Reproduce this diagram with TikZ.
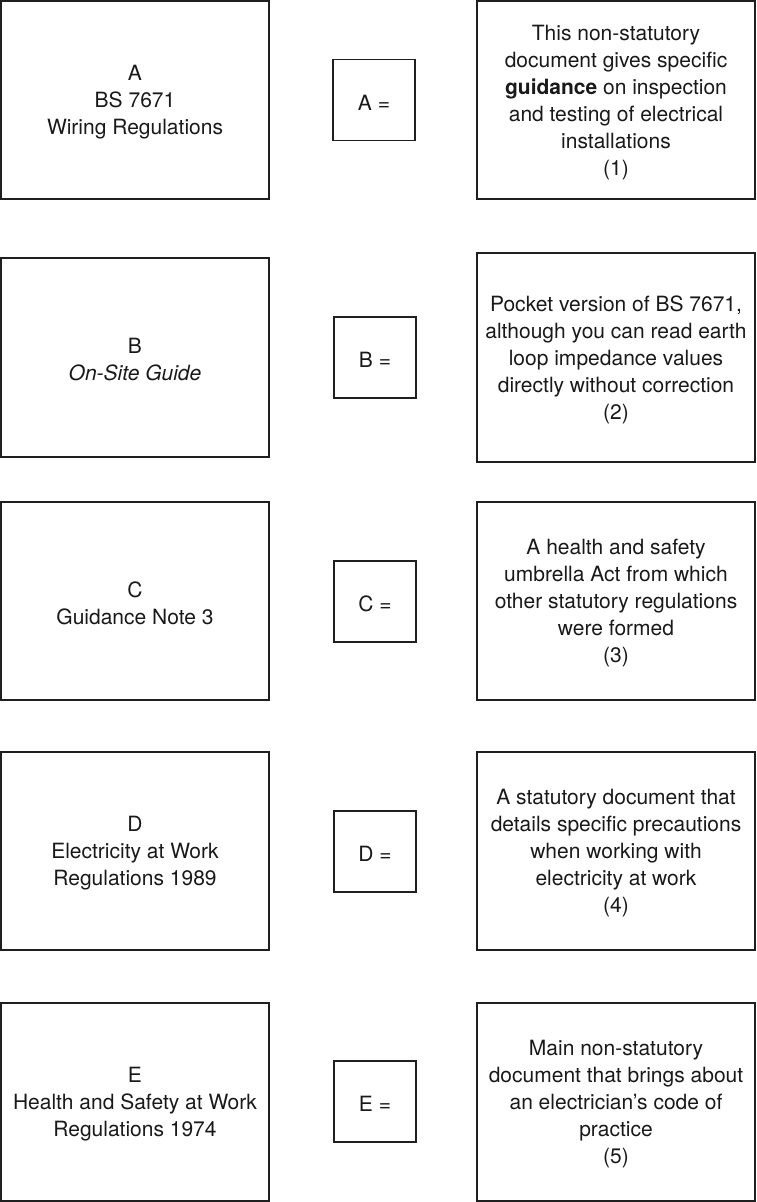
\documentclass[tikz,border=0pt]{standalone}
\usepackage{fontspec}
\setmainfont{TeX Gyre Heros}
\begin{document}
\begin{tikzpicture}[x=1pt,y=-1pt,
  box/.style={draw=black!88, line width=1.8pt, inner sep=0pt},
  leftbox/.style={box, minimum width=268pt, minimum height=198pt},
  midbox/.style={box, minimum width=82pt, minimum height=81pt},
  rightbox/.style={box, minimum width=278pt, minimum height=198pt},
  txt/.style={inner sep=0pt, align=center, yshift=-2.5pt,
    font=\fontsize{21}{27}\selectfont, text=black!90}]
\useasboundingbox (0,0) rectangle (756,1202);
% Row A
\node[leftbox] (lA) at (135,100) {};
\node[txt] (lAt) at (lA.center) {A\\BS 7671\\Wiring Regulations};
\node[midbox] (mA) at (374,100) {};
\node[txt] (mAt) at (mA.center) {A =};
\node[rightbox] (rA) at (616,100) {};
\node[txt] (rAt) at (rA.center) {This non-statutory\\document gives specific\\\textbf{guidance} on inspection\\and testing of electrical\\installations\\(1)};
% Row B
\node[leftbox, minimum height=199pt] (lB) at (135,357.5) {};
\node[txt] (lBt) at (lB.center) {B\\\textit{On-Site Guide}};
\node[midbox] (mB) at (375,357.5) {};
\node[txt] (mBt) at (mB.center) {B =};
\node[rightbox, minimum height=209pt] (rB) at (616,357.5) {};
\node[txt] (rBt) at (rB.center) {Pocket version of BS 7671,\\although you can read earth\\loop impedance values\\directly without correction\\(2)};
% Row C
\node[leftbox] (lC) at (135,601) {};
\node[txt] (lCt) at (lC.center) {C\\Guidance Note 3};
\node[midbox] (mC) at (375,601.5) {};
\node[txt] (mCt) at (mC.center) {C =};
\node[rightbox] (rC) at (616,601) {};
\node[txt] (rCt) at (rC.center) {A health and safety\\umbrella Act from which\\other statutory regulations\\were formed\\(3)};
% Row D
\node[leftbox] (lD) at (135,851) {};
\node[txt] (lDt) at (lD.center) {D\\Electricity at Work\\Regulations 1989};
\node[midbox] (mD) at (375,851.5) {};
\node[txt] (mDt) at (mD.center) {D =};
\node[rightbox] (rD) at (616,851) {};
\node[txt] (rDt) at (rD.center) {A statutory document that\\details specific precautions\\when working with\\electricity at work\\(4)};
% Row E
\node[leftbox] (lE) at (135,1102) {};
\node[txt] (lEt) at (lE.center) {E\\Health and Safety at Work\\Regulations 1974};
\node[midbox] (mE) at (375,1101.5) {};
\node[txt] (mEt) at (mE.center) {E =};
\node[rightbox] (rE) at (616,1102) {};
\node[txt] (rEt) at (rE.center) {Main non-statutory\\document that brings about\\an electrician’s code of\\practice\\(5)};
\end{tikzpicture}
\end{document}
